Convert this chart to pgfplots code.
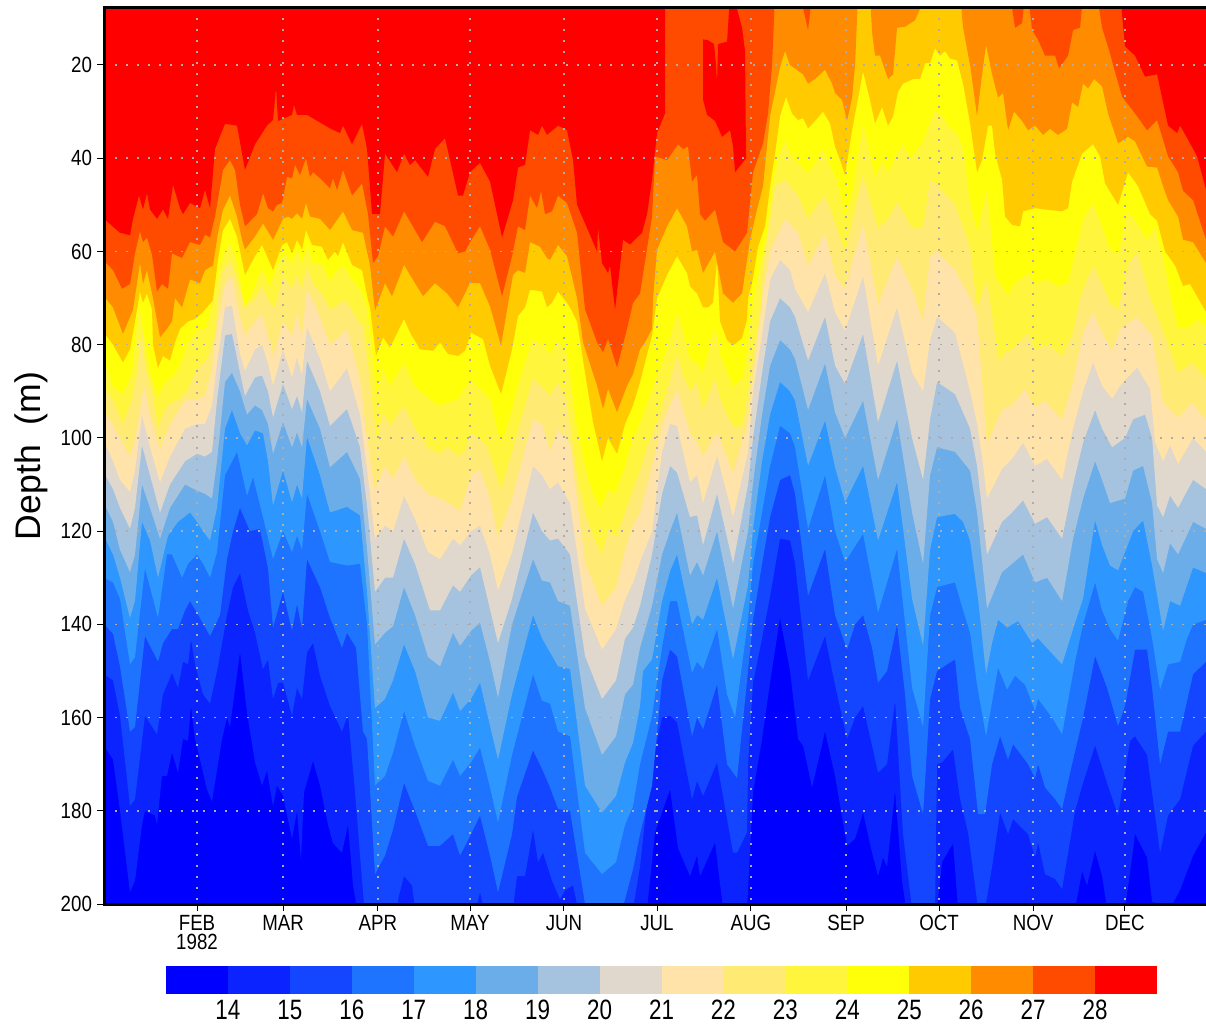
\documentclass[border=0pt]{standalone}
\usepackage{fontspec}
\setmainfont{Liberation Sans}
\newfontfamily\tickfam[FakeStretch=0.85]{Liberation Sans}
\newfontfamily\barfam[FakeStretch=0.8]{Liberation Sans}
\usepackage{pgfplots}
\pgfplotsset{compat=1.18}
\definecolor{c13}{HTML}{0000FF}
\definecolor{c14}{HTML}{0A23FF}
\definecolor{c15}{HTML}{1446FF}
\definecolor{c16}{HTML}{1E73FF}
\definecolor{c17}{HTML}{2D96FF}
\definecolor{c18}{HTML}{6BADE9}
\definecolor{c19}{HTML}{A5C3DE}
\definecolor{c20}{HTML}{E0D8CC}
\definecolor{c21}{HTML}{FFE3A8}
\definecolor{c22}{HTML}{FFEB73}
\definecolor{c23}{HTML}{FFF53C}
\definecolor{c24}{HTML}{FFFF0A}
\definecolor{c25}{HTML}{FFCB00}
\definecolor{c26}{HTML}{FF8C00}
\definecolor{c27}{HTML}{FF4B00}
\definecolor{c28}{HTML}{FF0000}
\begin{document}
\begin{tikzpicture}
\useasboundingbox (0,0) rectangle (603pt,512.5pt);
\node[rotate=90,font=\fontsize{17.8}{19}\selectfont] at (15.5pt,284.5pt) {Depth\ \ (m)};
\begin{axis}[
  at={(52pt,60.5pt)},anchor=south west,scale only axis,width=553pt,height=448.5pt,
  xmin=0,xmax=366.2,ymin=7.56,ymax=200,y dir=reverse,
  x filter/.expression={(x-104)/3.02},
  axis on top,
  axis background/.style={fill=c13},
  axis line style={line width=1.5pt},
  xtick={30.8,59.3,90.7,121.2,152.3,183.1,214.2,245.7,276.5,307.6,338},
  xticklabels={{FEB\\1982},MAR,APR,MAY,JUN,JUL,AUG,SEP,OCT,NOV,DEC},
  ytick={20,40,...,200},
  xtick pos=bottom,ytick pos=left,
  tick align=outside,major tick length=3.5pt,
  tick style={black,line width=0.5pt},
  grid=major,
  major grid style={draw=black!32,line width=0.8pt,dash pattern=on 1pt off 4.5pt},
  /pgf/number format/assume math mode=true,
  tick label style={font=\tickfam\fontsize{11}{9.5}\selectfont},
  xticklabel style={align=center,anchor=north,yshift=1.5pt},
  yticklabel style={anchor=east,xshift=1pt},
]
\addplot[fill=c14,draw=none] coordinates {(104,0)(104,166)(113,169)(120,180)(130,197.5)(135,195)(142,183)(145,180)(155,181)(157,183)(162,172.5)(167,172.5)(172,167.5)(178,171.8)(183,164.6)(188,165)(191,157.5)(195,164.6)(200,169)(207,175.4)(212,178)(222,164.6)(227,160)(230,162)(240,146)(247,159)(255,169.6)(262,174.6)(267,171.4)(273,179)(277,174.6)(283,176.8)(292,186)(297,180)(301,190.7)(304,176)(313,169.3)(320,174.6)(328,183)(333,187)(342,189)(348,183)(353,196)(357,201)(647,201)(655,184.6)(670,175.4)(678,188)(690,194)(697,189.6)(700,194)(715,186.8)(723,201)(747,201)(753,176)(762,164.6)(770,152.5)(780,138.6)(790,150)(798,164.6)(803,166)(812,175)(825,163)(835,172.5)(847,187.5)(855,186)(863,180.4)(872,189)(878,194)(883,190)(887,192)(895,175.7)(902,195)(906,201)(937,201)(942,191)(953,187)(958,201)(1075,201)(1082,193)(1087,196)(1095,188.6)(1102,194)(1107,201)(1125,201)(1132,190)(1135,185)(1147,190)(1152,199.5)(1170,201)(1180,197)(1193,189.6)(1206,184.6)(1206,0)} --cycle;
\addplot[fill=c15,draw=none] coordinates {(104,0)(104,150.7)(113,152)(120,159.6)(130,179)(135,177.5)(145,159.6)(157,163.6)(163,155)(172,150.4)(178,153.6)(183,148)(188,148.6)(191,143.2)(195,148.6)(203,155)(210,157)(218,149)(227,138)(233,132)(240,129)(248,137)(255,141.8)(263,149.6)(268,147.5)(273,156)(278,152.5)(283,152.5)(292,159.6)(297,153.6)(302,156)(307,146)(313,144)(320,151)(330,157.5)(342,163)(348,159.3)(355,176)(363,197.5)(367,208)(397,208)(398,199)(404,194)(412,196)(415,201)(476,201)(480,197.5)(484,201)(513,201)(517,194)(525,194)(533,184)(538,191)(543,189)(552,195)(560,199)(565,197)(573,196)(578,201)(633,201)(640,192)(647,178)(655,167)(662,160)(670,159.6)(677,161)(692,177.5)(697,173.6)(703,176.8)(717,169.6)(733,189)(737,189)(747,184.6)(748,170)(753,152.5)(762,143)(770,134)(780,121.6)(790,122)(795,127)(808,152)(825,142.5)(835,153)(847,164.6)(855,160)(863,157.5)(872,166)(878,171.8)(887,170)(895,156.4)(903,185)(912,201)(935,201)(937,170)(942,169.6)(953,166.8)(960,177.5)(968,184.6)(978,201)(985,201)(992,192)(1000,180.4)(1008,185)(1013,181.8)(1028,185)(1035,190)(1038,186.8)(1045,193.6)(1055,194.6)(1062,196.8)(1075,180)(1083,174)(1095,166)(1107,174)(1118,181)(1130,165)(1135,164)(1147,168)(1160,189)(1168,181)(1180,177.5)(1193,166)(1206,163)(1206,0)} --cycle;
\addplot[fill=c16,draw=none] coordinates {(104,0)(104,140)(113,142)(120,149)(130,163)(135,162)(145,142.5)(158,148)(163,144)(172,141)(178,141)(185,137)(190,135)(197,137.5)(210,142.5)(220,138)(227,126)(233,120)(240,115)(250,120)(260,119.5)(268,128)(273,140.7)(283,133)(292,141.4)(297,135.7)(302,141)(307,126)(320,132)(330,138.6)(342,145)(347,141.8)(356,145)(363,163)(367,164.6)(375,193.6)(385,189.6)(393,184)(404,174)(415,180)(428,187.5)(440,187.5)(453,185)(460,189.6)(471,185)(480,181)(490,189.6)(498,197.5)(512,185)(517,177)(533,167)(542,171)(550,175)(558,179.6)(570,180)(585,200)(590,201)(602,210)(622,201)(625,199)(633,192.5)(640,185)(652,174.6)(662,152)(670,145.4)(677,146.8)(692,164)(697,160)(703,162.5)(717,152.9)(727,170)(737,173)(748,150)(753,139)(762,127)(770,117)(780,109)(790,108)(795,112)(808,133.8)(825,123.8)(835,138)(847,145.4)(855,140)(863,138)(872,145)(878,152.5)(887,150)(897,140)(905,155)(912,172.5)(923,180.7)(930,156)(937,150)(955,147.5)(960,158)(970,164.6)(978,180.7)(985,180.7)(992,170)(1000,164)(1008,169)(1013,165.7)(1028,170)(1035,173)(1038,170)(1045,175)(1055,177.5)(1062,179.6)(1072,170)(1083,160)(1095,146.8)(1107,153.6)(1118,161.8)(1125,157.5)(1135,145.4)(1147,145.4)(1152,153.6)(1160,170)(1168,163)(1180,163)(1193,150.7)(1206,148)(1206,0)} --cycle;
\addplot[fill=c17,draw=none] coordinates {(104,0)(104,130)(113,131)(120,134.5)(130,148.6)(135,147)(145,128)(158,138.6)(167,125)(172,125)(182,130)(188,127)(197,125)(203,127)(210,130)(217,124.5)(225,108)(237,103)(247,112.4)(253,108.4)(263,117)(273,126)(283,120)(292,124.5)(297,121)(302,124)(307,112)(320,120)(330,126.6)(347,127.4)(360,127)(367,140)(375,174.6)(385,172.5)(393,167.5)(404,158.6)(415,166)(428,173.6)(440,174.6)(453,169)(460,172.5)(471,169.6)(480,166.4)(490,175)(498,182.5)(512,168)(533,150.7)(542,156.4)(550,157)(558,163)(570,164)(585,189)(602,193.6)(616,191)(625,183)(633,179)(640,170)(652,159.6)(662,145)(670,135)(677,135)(692,150.4)(697,148)(703,149.6)(717,141)(727,155)(735,160)(748,139)(753,127)(762,116)(770,106)(780,97.4)(790,99)(795,102)(808,119.5)(825,108)(835,120)(845,126.6)(863,120.6)(878,137.5)(897,123.8)(912,153.6)(923,162)(930,138)(937,132)(955,131)(963,137)(970,141.8)(977,153)(986,164)(998,149.3)(1007,154)(1015,151)(1025,153)(1035,158.6)(1038,156)(1052,160)(1062,163.6)(1075,148)(1083,140)(1095,131)(1102,137)(1110,141)(1118,143.5)(1128,135)(1135,132)(1143,133)(1152,143)(1160,154)(1168,148.6)(1180,148)(1187,143)(1193,140)(1206,139)(1206,0)} --cycle;
\addplot[fill=c18,draw=none] coordinates {(104,0)(104,121)(113,125)(120,130)(130,138.6)(135,135)(142,118)(150,122)(158,130)(168,121)(178,118)(190,116)(197,118)(203,120)(210,122)(217,115)(225,98)(232,94)(240,99)(247,101.6)(255,98.4)(263,99)(268,105)(273,114.5)(283,107)(292,113.8)(297,110)(302,113)(307,99.8)(320,108)(330,116)(347,114.8)(360,116.6)(367,133)(375,158)(385,156)(393,152)(404,144.3)(415,150)(428,160)(440,160.7)(453,154.6)(460,158.6)(471,156)(480,152.5)(490,161.8)(498,169)(512,155)(533,138)(542,143)(550,146)(558,149)(570,149.6)(585,174.6)(602,180.4)(616,176.8)(625,169.6)(633,165.4)(640,157.5)(643,150)(652,147.5)(662,135)(670,128.6)(677,125)(692,140)(697,138)(703,139)(717,130)(733,147.5)(748,131.6)(753,119.5)(762,105)(770,95)(780,88)(790,90)(795,92)(808,106)(825,96.3)(835,106.3)(845,113.8)(863,106)(878,122)(897,109.5)(912,134.5)(923,144.6)(930,124)(937,117)(955,116.3)(963,118)(970,122)(978,134.5)(986,150.7)(992,144)(998,139)(1007,140.7)(1018,139.3)(1032,144)(1038,143)(1062,148.6)(1073,141)(1083,134.5)(1095,117.7)(1102,123)(1110,127.4)(1118,128.4)(1133,120)(1143,117.7)(1152,127.4)(1163,141.4)(1170,135)(1180,136)(1193,127.8)(1206,129)(1206,0)} --cycle;
\addplot[fill=c19,draw=none] coordinates {(104,0)(104,114)(113,118)(120,124)(130,128.8)(135,125)(142,110)(150,115)(160,121.6)(170,115)(185,110)(197,111.3)(205,112)(212,113)(217,105)(225,88)(232,86)(240,90)(247,95)(255,93)(262,94)(268,97)(273,103.4)(283,96.6)(292,102)(297,98.8)(302,102)(307,91.6)(320,98)(330,106.3)(347,103)(360,108.8)(367,123.8)(375,144.3)(385,141.8)(393,140.4)(404,132)(415,138)(428,147)(440,149)(453,141.8)(460,144.6)(471,141.4)(480,139.6)(490,148)(498,155.7)(512,140)(533,126)(542,130.6)(550,131)(558,135)(570,136)(585,158)(602,168)(616,164)(625,155)(633,152.9)(640,145)(652,136)(662,125)(670,120)(677,116)(690,129.5)(697,126.6)(703,129.5)(717,120)(733,136.6)(748,120)(753,109.5)(762,95)(770,84.5)(780,79)(790,81)(795,83)(808,94)(825,84)(835,94.5)(845,100)(863,92)(878,109)(897,96)(912,116)(923,127)(930,108)(937,102)(955,103)(970,107)(977,116)(987,136.6)(1002,128.8)(1012,127)(1023,125)(1035,131)(1047,130)(1062,135)(1073,121.6)(1083,113)(1095,105)(1102,109)(1110,114)(1125,113)(1133,107)(1143,106)(1152,114)(1157,126)(1163,129)(1170,122.6)(1178,125)(1193,118)(1206,119.5)(1206,0)} --cycle;
\addplot[fill=c20,draw=none] coordinates {(104,0)(104,107.4)(113,111)(120,115)(130,119.5)(135,115)(142,101.6)(150,108)(160,116)(170,110)(185,105)(197,103.4)(205,104)(212,103)(217,92)(225,78)(232,77.7)(240,86)(245,91)(255,87)(262,86.6)(268,90)(273,95.6)(283,88.4)(292,93.8)(297,91)(302,94.5)(307,83.4)(320,90)(330,97.4)(347,93.8)(360,102)(367,114.5)(375,133)(385,130)(393,130)(404,121.6)(415,127)(430,137)(440,137)(453,131.6)(460,133)(471,129.5)(480,127.7)(490,136.8)(498,144)(512,134.5)(533,116)(542,120)(550,122)(558,121.6)(570,125)(585,146.8)(602,156)(616,152)(625,143)(633,140.7)(640,136)(652,125)(662,112)(670,106)(677,107.4)(690,117)(697,116.6)(703,123)(717,112)(733,127)(748,110)(753,100)(762,86)(770,75)(780,70)(790,72)(795,74)(808,83.4)(825,74)(835,84.5)(845,88.4)(863,77.7)(878,96.6)(897,83.4)(912,100)(923,109)(930,96)(937,88)(955,90.6)(970,98)(977,106)(987,125)(1002,118)(1012,116)(1023,113.4)(1035,118.4)(1047,117)(1062,121.6)(1073,110)(1083,101)(1095,94)(1102,98)(1112,102)(1125,100)(1133,96)(1145,95)(1152,100)(1157,114.5)(1163,117)(1170,112.4)(1178,115)(1193,109)(1206,111)(1206,0)} --cycle;
\addplot[fill=c21,draw=none] coordinates {(104,0)(104,100.6)(113,105)(120,109)(130,111.6)(135,107)(142,95.2)(150,102)(160,109.5)(170,104)(185,98)(197,97)(205,97)(212,93)(217,84)(225,72)(232,71.6)(240,82)(245,85.6)(255,81)(262,80)(268,84)(273,88.8)(283,81)(292,87)(297,82.7)(302,86.6)(307,76.3)(320,83)(330,90)(347,85)(360,95)(367,106.6)(375,121.6)(385,118.8)(393,120)(404,112.4)(415,117.4)(428,124.5)(440,126)(453,121.6)(460,123)(471,120)(480,118.8)(490,125)(498,132.7)(512,124.5)(533,106)(542,108)(550,111)(558,109.5)(570,114)(585,136.6)(602,145.4)(616,141)(625,134.7)(633,131)(640,126.6)(652,120)(662,103)(670,97)(677,97.4)(690,109.5)(697,108)(703,114)(717,103.8)(733,117)(748,103)(753,90)(762,78)(770,66)(780,61.8)(790,64)(795,68)(808,73)(825,64.6)(835,73)(845,77)(863,65.3)(878,84.5)(897,72)(912,86)(923,90)(930,79)(937,74)(955,77.4)(970,90)(977,97)(982,104)(987,113)(1002,106.6)(1012,104.5)(1023,101)(1035,106)(1047,104.5)(1062,109)(1073,98)(1083,90)(1093,83.8)(1102,88.8)(1112,91.6)(1120,88.8)(1137,84.9)(1150,89.5)(1155,101)(1163,105)(1170,101.6)(1178,105.6)(1193,100)(1206,103)(1206,0)} --cycle;
\addplot[fill=c22,draw=none] coordinates {(104,0)(104,94.5)(113,97)(120,100)(130,103.8)(135,100)(144,88.8)(150,95)(160,102.4)(170,97)(185,92)(197,91.6)(205,91)(212,85)(217,76)(225,67)(232,65.4)(240,74)(245,78)(255,75)(262,73.4)(268,78)(273,82.4)(283,75)(292,78)(297,73)(302,78)(307,68)(320,74)(330,80)(347,76.6)(360,87.4)(367,100)(375,111)(385,106)(393,108.8)(404,103.8)(415,108.8)(428,112)(440,113)(453,114.5)(460,115.7)(471,108)(480,106.6)(490,113)(498,121.3)(512,113)(533,96)(542,97)(550,103)(558,98)(570,101.6)(585,126.6)(602,136)(616,132)(625,124)(633,118.8)(640,116)(652,106)(662,97)(670,93)(677,89.5)(690,98.8)(697,101)(703,103.8)(717,98.8)(733,107.4)(748,96.6)(753,87)(762,70)(770,60)(785,53)(798,56)(808,63)(825,56)(835,65)(845,68)(863,54)(878,71.3)(897,61)(912,68)(923,75)(930,61)(937,60)(955,64)(970,70)(977,74)(987,101.3)(1002,93.8)(1012,93)(1025,89.5)(1035,93.4)(1045,92)(1062,96)(1073,88)(1083,77.4)(1093,73)(1102,77.4)(1112,81.3)(1120,76.6)(1137,74)(1152,78)(1163,92.4)(1178,95.6)(1192,92.4)(1206,96)(1206,0)} --cycle;
\addplot[fill=c23,draw=none] coordinates {(104,0)(104,89)(113,92)(123,97)(132,91.6)(137,86)(142,77)(145,84.5)(152,90)(158,97.7)(165,93.8)(172,92.4)(180,91.6)(188,89.5)(197,85)(207,83)(215,78)(218,70)(223,64)(230,62)(237,66)(245,72)(255,70)(262,67.5)(270,71)(275,72)(283,65)(292,68)(297,65)(302,68)(307,63)(313,67)(322,69)(330,72.5)(345,70.4)(352,72.5)(357,74.5)(363,76)(368,83.8)(377,101)(383,94.5)(390,97.4)(404,93)(415,98)(428,102)(438,103.4)(448,102)(458,103.8)(465,102.7)(471,98.8)(487,101.6)(501,111)(512,103)(520,97)(533,87)(542,89)(550,91)(558,88)(567,92)(577,108)(585,116)(593,121)(602,125)(608,119.5)(616,121.3)(625,116)(633,111)(640,107)(647,102)(657,96.6)(667,90)(677,82)(683,86.6)(690,90)(697,88)(703,94)(715,87)(720,91.6)(727,95)(735,98)(743,97)(748,90)(753,83)(760,73.8)(763,63)(768,56)(775,46)(785,44.6)(798,48)(808,53)(817,50)(825,48)(833,52.5)(845,60)(863,43.6)(878,55)(888,53)(897,49.3)(912,55)(923,55)(930,44.6)(937,45.7)(955,50)(970,59)(977,72)(987,66)(995,78)(998,83.4)(1005,81.6)(1012,81)(1028,77.4)(1035,81)(1048,80)(1062,82.4)(1073,77.4)(1080,70)(1093,63)(1102,67)(1110,71)(1118,72.5)(1128,63)(1137,60)(1150,70)(1163,77)(1178,86)(1193,83.8)(1206,87.4)(1206,0)} --cycle;
\addplot[fill=c24,draw=none] coordinates {(104,0)(104,83)(113,89)(123,90.6)(132,86)(139,71.6)(145,79.5)(150,86)(158,91)(165,88)(172,87)(180,84.5)(188,79.5)(197,77)(207,76.3)(215,67.5)(223,61)(230,58)(237,62.5)(245,72)(255,67.5)(262,63.6)(270,67.5)(277,63)(285,60.4)(292,62.5)(297,59.6)(302,62.5)(307,59)(313,62.5)(322,62.5)(330,66.4)(335,64.6)(343,63)(352,66)(360,68)(367,72)(377,91)(383,85)(390,88.8)(404,83.8)(415,89)(428,91.3)(438,93)(448,92.4)(458,91.6)(471,87.4)(490,91.6)(501,101.3)(512,93.8)(520,87)(532,79)(542,80)(550,82)(558,79)(567,82)(577,98)(585,106)(593,112)(601,115)(608,111)(615,112)(625,106)(633,100)(640,97)(647,92.4)(657,86.6)(667,81)(677,73)(683,77)(690,83)(697,83.8)(703,86)(715,76)(720,82)(733,89)(743,87)(748,79.5)(753,71)(760,63)(767,56)(772,46)(778,40.4)(785,36)(790,39)(798,41)(808,43.2)(817,40.4)(823,38)(832,42.5)(837,44.6)(845,52.6)(852,48)(863,32.5)(875,44)(882,40.4)(888,43)(897,39)(903,37)(910,40)(922,36.8)(935,29.6)(942,31)(950,33.6)(957,34.6)(963,38)(970,49)(977,55.7)(987,46.4)(995,65)(1008,69.3)(1015,66.8)(1028,64.6)(1035,66.8)(1048,66)(1058,67.5)(1068,66.8)(1075,60.4)(1083,53)(1093,49.6)(1102,54.6)(1110,59.6)(1118,60.4)(1128,51.4)(1137,54)(1147,57.5)(1155,54.6)(1165,63)(1170,69)(1178,76.3)(1188,76.3)(1198,74.5)(1206,76.3)(1206,0)} --cycle;
\addplot[fill=c25,draw=none] coordinates {(104,0)(104,77.4)(113,80)(123,83.8)(130,81)(135,75)(139,70)(140,68.6)(143,71)(147,69)(152,72.5)(153,80)(158,85)(163,82.4)(170,83.4)(175,79.5)(180,76.6)(188,75)(195,74.5)(203,73)(213,70.4)(218,61.8)(223,55.4)(230,53)(237,56.8)(245,65)(255,61)(262,58.6)(267,61)(273,64)(282,58.6)(287,58)(292,60.4)(297,57.5)(302,59.6)(306,55.4)(312,58.6)(322,59)(328,61.8)(335,60)(338,61)(343,58)(352,62.9)(362,64)(368,70.4)(370,72)(376,82.4)(383,78.4)(390,80.6)(404,74.5)(410,77.4)(420,81)(433,81.3)(440,79.5)(448,82)(458,82.4)(465,81.3)(471,77.4)(483,78.8)(490,84.5)(501,90.6)(512,81)(518,73.8)(525,72)(530,68.2)(542,68.6)(547,72)(552,71)(558,68.6)(567,71)(570,72)(577,75)(585,86)(593,96.6)(602,105)(608,100)(617,103.4)(625,97)(633,93)(640,88)(645,83.8)(652,78)(657,70)(667,65)(677,61)(687,64.6)(690,67.5)(697,69)(703,72)(708,72)(713,71)(717,62)(720,75)(727,79)(733,80.2)(742,78.6)(747,74.5)(748,70)(752,66.8)(758,59)(765,54.6)(770,46)(775,39)(780,31)(786,26.8)(792,30.4)(798,31.8)(803,31.4)(808,33.6)(815,32)(823,30)(830,32.5)(835,37.5)(840,40.4)(845,43.6)(852,34)(863,21.4)(870,27.5)(875,32.5)(882,29)(888,33)(893,31)(898,25.7)(903,24)(913,23)(920,23)(925,19.6)(930,19.6)(935,16.4)(940,18)(945,17)(950,18.6)(957,19)(963,24)(970,32.5)(977,43)(982,40.4)(988,33)(992,33)(995,39)(1002,44.6)(1005,52.5)(1012,54.3)(1020,54.6)(1023,51.4)(1035,50.7)(1045,51)(1062,51.4)(1068,50.7)(1072,45)(1082,39)(1093,37)(1100,39.6)(1105,45.4)(1118,50)(1128,43)(1138,46)(1150,52)(1157,53.4)(1165,60)(1175,63)(1183,67.4)(1190,67)(1206,73)(1206,0)} --cycle;
\addplot[fill=c26,draw=none] coordinates {(104,0)(104,69.6)(113,72)(123,77.7)(133,72.5)(140,62.5)(143,67)(147,64)(153,70)(160,78.4)(167,76.6)(172,75)(175,70)(182,72)(190,66)(200,66.8)(205,64)(213,63)(218,56)(223,51)(230,48)(237,52.5)(242,57.5)(245,59.6)(255,56.8)(263,54)(273,57.5)(283,53)(288,52.5)(292,53)(297,51.8)(302,53)(306,49.6)(310,52.5)(320,53)(330,55.4)(343,51.4)(352,55.4)(363,56)(370,63)(375,72.7)(385,66.8)(392,69.6)(404,62.9)(415,66.8)(423,69.6)(435,66.8)(447,69)(458,72)(470,66.8)(480,66.8)(490,71.8)(501,80.2)(513,65)(518,64)(525,64.6)(530,58)(540,59)(547,61.4)(550,61.8)(558,58.6)(567,61)(577,70)(583,79.5)(597,88.8)(603,93.8)(608,89.5)(617,94.5)(627,88.8)(633,86.3)(640,81)(645,79.5)(652,76.6)(653,70)(657,59.6)(667,54.6)(677,50.7)(687,54.6)(692,60)(697,59.6)(703,64.6)(715,60)(723,69)(733,71)(742,69)(750,57.5)(757,51)(763,46)(770,31)(780,20.4)(785,17)(790,20)(803,22)(808,24)(815,23)(825,21)(832,24)(835,26)(842,27.5)(847,32)(852,27)(855,20)(858,5)(870,5)(872,13)(875,18)(880,18)(888,23)(893,22)(897,12)(905,11.8)(915,10.4)(922,7)(960,5)(963,12)(970,20)(977,31)(982,22)(986,15.7)(992,22)(998,27)(1003,26)(1008,34)(1014,30)(1022,32)(1028,34)(1035,33)(1043,35)(1050,33.7)(1058,35)(1067,33.7)(1072,28)(1078,29)(1083,24)(1088,25)(1094,23)(1102,24.6)(1108,30.4)(1118,36.8)(1128,35.4)(1135,36.4)(1147,41.8)(1157,42)(1163,46)(1168,49)(1178,52.5)(1183,57.5)(1193,58)(1206,62.5)(1206,0)} --cycle;
\addplot[fill=c27,draw=none] coordinates {(104,0)(104,62)(113,64)(122,68)(130,67)(135,60.4)(140,55.7)(143,58)(147,57)(152,60.7)(157,68.6)(162,67)(168,68)(172,60.4)(182,61.4)(190,58)(200,58.6)(205,56.4)(210,57)(215,52.5)(223,42.5)(230,40.4)(235,42.5)(240,50)(245,54.6)(257,52)(263,47.5)(268,50.7)(273,51.4)(277,50)(282,49.6)(287,44)(292,44.3)(295,41.4)(300,43.6)(306,40)(310,44)(313,43)(320,44.3)(330,46.4)(333,44.3)(337,46.8)(343,42.5)(352,48)(362,45.4)(368,52)(373,62.5)(378,61)(385,54.6)(393,56.8)(404,51.4)(412,54.3)(422,58)(435,53.6)(445,54.6)(458,60.4)(465,60)(470,58)(480,54.6)(490,59.6)(502,69.6)(512,61)(518,54.6)(525,55.4)(530,48)(537,50.7)(541,47)(545,52)(552,51.4)(558,48)(567,49.6)(577,56)(585,72.4)(597,79.5)(603,81.6)(608,78.8)(617,84.9)(627,76.6)(633,71)(640,69)(652,52.5)(655,39.6)(667,40.4)(678,37)(683,38)(688,37.5)(692,45)(697,43.6)(700,52)(705,53.4)(715,51)(723,58)(735,60)(747,56)(753,43)(763,36.8)(768,30.4)(772,20)(775,5)(800,5)(808,12.5)(812,5)(1010,5)(1015,12)(1022,11)(1025,5)(1028,5)(1032,12.5)(1038,14.6)(1045,18)(1055,18)(1059,20.7)(1068,18)(1073,12.5)(1080,12)(1083,5)(1097,5)(1102,12)(1110,17.5)(1113,20)(1122,26.8)(1135,30.4)(1147,34)(1157,31.8)(1168,39.6)(1178,43)(1183,47)(1193,49)(1206,57.5)(1206,0)} --cycle;
\addplot[fill=c28,draw=none] coordinates {(104,0)(104,53)(120,56)(130,56.5)(133,53)(139,48)(143,51)(147,47.5)(150,51)(157,53)(163,51)(168,53)(173,45.7)(180,50.7)(183,52)(190,49.6)(200,50.7)(205,46.8)(210,50.7)(215,38)(225,32.6)(237,33)(245,42.5)(255,37)(267,33)(273,31.8)(276,25)(278,32)(292,30.7)(294,28.6)(297,30.7)(307,30.7)(330,33.6)(340,34.6)(343,33)(352,37)(362,32.6)(367,38)(372,52)(380,52)(385,39)(397,43)(404,39)(410,41.5)(415,40.4)(428,44)(435,38)(445,35.7)(458,48)(463,48)(470,43)(480,41)(490,45)(502,57)(513,49)(518,42)(525,41.4)(530,34)(538,35)(542,33)(547,35)(558,33)(567,34)(573,40.4)(577,50)(597,60)(598,55)(602,62.5)(608,64.6)(610,63)(615,72.5)(623,57.5)(630,58.5)(642,56)(647,52)(652,44.6)(657,34.6)(665,30.4)(665.2,0)(1118,0)(1125,16)(1135,18)(1145,22.5)(1157,22)(1168,33)(1177,34.6)(1180,33)(1188,36)(1197,39.6)(1206,46.8)(1206,0)} --cycle;
\addplot[fill=c28,draw=none] coordinates {(703,14.5)(708,14.7)(714,15.5)(716,20)(717,24)(718,15.5)(727,15)(730,5)(733,5)(737,8)(742,12)(745,17)(746,40)(735,43)(733,37.5)(730,34)(722,35.4)(715,32)(707,30.7)(703,27.5)} --cycle;
\end{axis}
\begin{axis}[
  at={(83pt,15.5pt)},anchor=south west,scale only axis,width=495.5pt,height=14pt,
  xmin=13,xmax=29,ymin=0,ymax=1,
  axis line style={draw=none},
  ytick=\empty,
  xtick={14,15,...,28},
  tick style={draw=none},
  /pgf/number format/assume math mode=true,
  tick label style={font=\barfam\fontsize{14}{15}\selectfont},
  xticklabel style={yshift=0.5pt},
]
\addplot[fill=c13,draw=none] coordinates {(13,0)(14.02,0)(14.02,1)(13,1)} --cycle;
\addplot[fill=c14,draw=none] coordinates {(14,0)(15.02,0)(15.02,1)(14,1)} --cycle;
\addplot[fill=c15,draw=none] coordinates {(15,0)(16.02,0)(16.02,1)(15,1)} --cycle;
\addplot[fill=c16,draw=none] coordinates {(16,0)(17.02,0)(17.02,1)(16,1)} --cycle;
\addplot[fill=c17,draw=none] coordinates {(17,0)(18.02,0)(18.02,1)(17,1)} --cycle;
\addplot[fill=c18,draw=none] coordinates {(18,0)(19.02,0)(19.02,1)(18,1)} --cycle;
\addplot[fill=c19,draw=none] coordinates {(19,0)(20.02,0)(20.02,1)(19,1)} --cycle;
\addplot[fill=c20,draw=none] coordinates {(20,0)(21.02,0)(21.02,1)(20,1)} --cycle;
\addplot[fill=c21,draw=none] coordinates {(21,0)(22.02,0)(22.02,1)(21,1)} --cycle;
\addplot[fill=c22,draw=none] coordinates {(22,0)(23.02,0)(23.02,1)(22,1)} --cycle;
\addplot[fill=c23,draw=none] coordinates {(23,0)(24.02,0)(24.02,1)(23,1)} --cycle;
\addplot[fill=c24,draw=none] coordinates {(24,0)(25.02,0)(25.02,1)(24,1)} --cycle;
\addplot[fill=c25,draw=none] coordinates {(25,0)(26.02,0)(26.02,1)(25,1)} --cycle;
\addplot[fill=c26,draw=none] coordinates {(26,0)(27.02,0)(27.02,1)(26,1)} --cycle;
\addplot[fill=c27,draw=none] coordinates {(27,0)(28.02,0)(28.02,1)(27,1)} --cycle;
\addplot[fill=c28,draw=none] coordinates {(28,0)(29,0)(29,1)(28,1)} --cycle;
\end{axis}
\end{tikzpicture}
\end{document}
